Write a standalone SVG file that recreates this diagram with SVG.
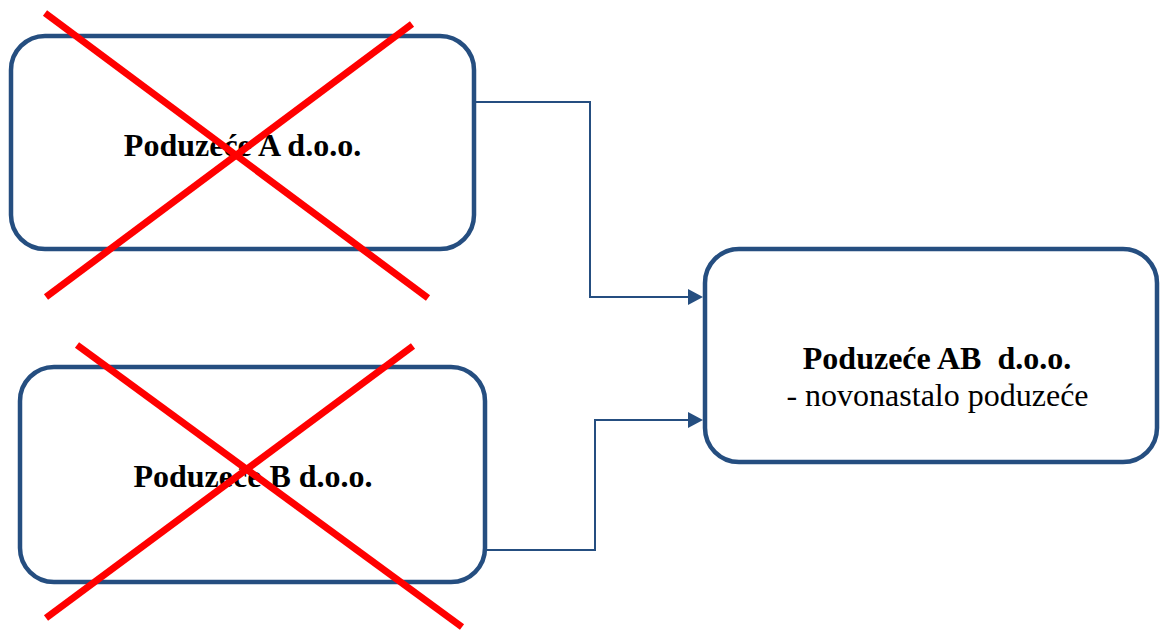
<svg xmlns="http://www.w3.org/2000/svg" width="1161" height="630" viewBox="0 0 1161 630">
<style>
.box{fill:#fff;stroke:#254E80;stroke-width:4.5}
.conn{fill:none;stroke:#254E80;stroke-width:2}
.head{fill:#254E80}
.cross{stroke:#FF0000;stroke-width:7;stroke-linecap:butt}
.t{font-family:"Liberation Serif","Times New Roman",serif;font-size:32px;fill:#000;text-anchor:middle}
.b{font-weight:bold}
</style>
<rect width="1161" height="630" fill="#fff"/>
<g id="connectors">
<polyline class="conn" points="476,102 590,102 590,297 690,297"/>
<path class="head" d="M703,297 L688,289 L688,305 Z"/>
<polyline class="conn" points="487,550 595,550 595,420 690,420"/>
<path class="head" d="M703,420 L688,412 L688,428 Z"/>
</g>
<g id="nodeA">
<rect class="box" x="11" y="36" width="463" height="213" rx="34"/>
<text class="t b" x="242.5" y="156">Poduzeće A d.o.o.</text>
<line class="cross" x1="45" y1="13" x2="428" y2="298"/>
<line class="cross" x1="46" y1="297" x2="412" y2="24"/>
</g>
<g id="nodeB">
<rect class="box" x="20" y="367" width="465" height="215" rx="34"/>
<text class="t b" x="253" y="487">Poduzeće B d.o.o.</text>
<line class="cross" x1="77" y1="345" x2="462" y2="627"/>
<line class="cross" x1="46" y1="618" x2="413" y2="346"/>
</g>
<g id="nodeAB">
<rect class="box" x="705" y="249" width="452" height="213" rx="34"/>
<text class="t b" x="937" y="369" xml:space="preserve">Poduzeće AB  d.o.o.</text>
<text class="t" x="937.5" y="406">- novonastalo poduzeće</text>
</g>
</svg>
